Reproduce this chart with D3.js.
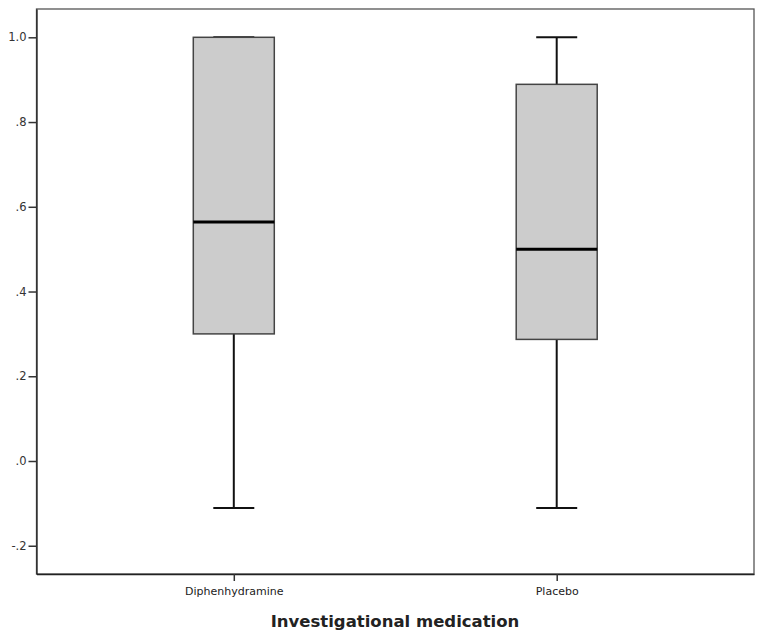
<!DOCTYPE html>
<head>
    <script src="https://d3js.org/d3.v7.min.js"></script>
</head>
<style>
body {
    margin: 0;
    background: #fff;
    font-family: "DejaVu Sans", Verdana, sans-serif;
}
</style>
<body>
<svg></svg>
<script>

    // Data
    var groups = ["Diphenhydramine", "Placebo"];
    var lowWhisker = [-0.111, -0.111];
    var q1 = [0.30, 0.287];
    var median = [0.564, 0.50];
    var q3 = [1.0, 0.889];
    var highWhisker = [1.0, 1.0];
    var yTicks = [-0.2, 0, 0.2, 0.4, 0.6, 0.8, 1.0];

    var width = 764, height = 641;
    var plotLeft = 36.5, plotRight = 754, plotTop = 9, plotBottom = 574;

    var svg = d3.select("svg").attr("width", width).attr("height", height);

    var y = d3.scaleLinear().domain([-0.2667, 1.0668]).range([plotBottom, plotTop]);
    var x = d3.scalePoint().domain(groups).range([plotLeft, plotRight]).padding(0.611);
    var boxW = 81, capW = 41;

    // SPSS style labels: 1.0, .8, ..., .0, -.2
    function fmt(v) {
        var s = (Math.abs(v) < 1e-9 ? 0 : v).toFixed(1);
        return s.replace(/^(-?)0\./, "$1.");
    }

    // frame
    svg.append("rect")
        .attr("x", plotLeft).attr("y", plotTop)
        .attr("width", plotRight - plotLeft).attr("height", plotBottom - plotTop)
        .attr("fill", "none").attr("stroke", "#555").attr("stroke-width", 1.3);

    // axes
    var yAxis = svg.append("g")
        .attr("transform", "translate(" + plotLeft + ",0)")
        .call(d3.axisLeft(y).tickValues(yTicks).tickFormat(fmt).tickSize(8).tickSizeOuter(0).tickPadding(2));
    yAxis.select(".domain").attr("stroke", "#222").attr("stroke-width", 1.3);
    yAxis.selectAll(".tick line").attr("stroke", "#333").attr("stroke-width", 1.5);
    yAxis.selectAll("text").attr("font-size", 11.5).attr("fill", "#333")
        .attr("font-family", "DejaVu Sans, sans-serif");

    var xAxis = svg.append("g")
        .attr("transform", "translate(0," + plotBottom + ")")
        .call(d3.axisBottom(x).tickSize(7).tickSizeOuter(0).tickPadding(6));
    xAxis.select(".domain").attr("stroke", "#222").attr("stroke-width", 1.3);
    xAxis.selectAll(".tick line").attr("stroke", "#333").attr("stroke-width", 1.5);
    xAxis.selectAll("text").attr("font-size", 11).attr("fill", "#222")
        .attr("font-family", "DejaVu Sans, sans-serif");

    svg.append("text")
        .attr("x", 395).attr("y", 627)
        .attr("text-anchor", "middle")
        .attr("font-size", 16.5).attr("font-weight", "bold").attr("fill", "#222")
        .attr("font-family", "DejaVu Sans, sans-serif")
        .text("Investigational medication");

    // boxes
    var box = svg.selectAll("g.box").data(groups).enter().append("g").attr("class", "box");

    box.append("line")
        .attr("x1", function(d) { return x(d); }).attr("x2", function(d) { return x(d); })
        .attr("y1", function(d, i) { return y(lowWhisker[i]); })
        .attr("y2", function(d, i) { return y(q1[i]); })
        .attr("stroke", "#111").attr("stroke-width", 2);
    box.append("line")
        .attr("x1", function(d) { return x(d); }).attr("x2", function(d) { return x(d); })
        .attr("y1", function(d, i) { return y(q3[i]); })
        .attr("y2", function(d, i) { return y(highWhisker[i]); })
        .attr("stroke", "#111").attr("stroke-width", 2);

    // caps
    box.append("line")
        .attr("x1", function(d) { return x(d) - capW / 2; }).attr("x2", function(d) { return x(d) + capW / 2; })
        .attr("y1", function(d, i) { return y(lowWhisker[i]); })
        .attr("y2", function(d, i) { return y(lowWhisker[i]); })
        .attr("stroke", "#111").attr("stroke-width", 2);
    box.append("line")
        .attr("x1", function(d) { return x(d) - capW / 2; }).attr("x2", function(d) { return x(d) + capW / 2; })
        .attr("y1", function(d, i) { return y(highWhisker[i]); })
        .attr("y2", function(d, i) { return y(highWhisker[i]); })
        .attr("stroke", "#111").attr("stroke-width", 2);

    box.append("rect")
        .attr("x", function(d) { return x(d) - boxW / 2; })
        .attr("width", boxW)
        .attr("y", function(d, i) { return y(q3[i]); })
        .attr("height", function(d, i) { return y(q1[i]) - y(q3[i]); })
        .attr("fill", "#cccccc").attr("stroke", "#444").attr("stroke-width", 1.5);

    box.append("line")
        .attr("x1", function(d) { return x(d) - boxW / 2; }).attr("x2", function(d) { return x(d) + boxW / 2; })
        .attr("y1", function(d, i) { return y(median[i]); })
        .attr("y2", function(d, i) { return y(median[i]); })
        .attr("stroke", "#000").attr("stroke-width", 3);

</script>
</body>
